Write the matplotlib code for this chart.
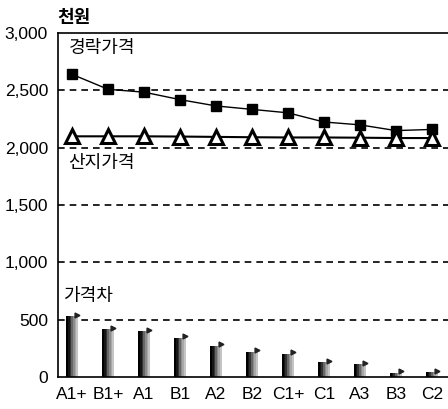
import matplotlib
matplotlib.use("Agg")
import matplotlib.pyplot as plt
import numpy as np

plt.rcParams['font.family'] = ['Liberation Sans', 'Noto Sans CJK KR', 'DejaVu Sans']

# grades
grades = ["A1+", "B1+", "A1", "B1", "A2", "B2", "C1+", "C1", "A3", "B3", "C2"]
# auction price (천원)
auction_price = [2640, 2510, 2485, 2420, 2365, 2335, 2305, 2225, 2200, 2150, 2160]
# farm price (천원)
farm_price = [2100, 2100, 2100, 2098, 2095, 2092, 2090, 2090, 2088, 2085, 2085]
# price gap (bars)
price_gap = [530, 420, 400, 345, 275, 222, 205, 128, 111, 37, 43]

x = np.arange(len(grades))

fig = plt.figure(figsize=(4.48, 4.09), dpi=100)
ax = fig.add_axes([0.129, 0.078, 0.871, 0.841])

# dashed grid lines
for g in [500, 1000, 1500, 2000, 2500]:
    ax.axhline(g, color='black', linestyle=(0, (4, 3)), linewidth=1.2, zorder=1)

# shaded bars: dark on the left fading to light gray on the right
w = 0.32
shades = ['#000000', '#151515', '#333333', '#666666', '#8c8c8c', '#a8a8a8', '#c4c4c4']
n = len(shades)
for i, c in enumerate(shades):
    off = -w / 2 + (i + 0.5) * w / n
    ax.bar(x + off, price_gap, width=w / n * 1.05, color=c, linewidth=0, zorder=2)
# small caps at top right of each bar
ax.plot(x + w * 0.45, np.array(price_gap) + 12, linestyle='none', marker='>',
        markersize=3.5, color='#222222', zorder=3)

# lines
ax.plot(x, auction_price, color='black', linewidth=1, marker='s', markersize=7.5,
        zorder=4)
ax.plot(x, farm_price, color='black', linewidth=1.5, marker='^', markersize=10,
        markerfacecolor='white', markeredgewidth=2.2, zorder=4)

ax.set_xlim(-0.4, 10.45)
ax.set_ylim(0, 3000)
ax.set_xticks(x)
ax.set_xticklabels(grades, fontsize=12.5)
ax.set_yticks([0, 500, 1000, 1500, 2000, 2500, 3000])
ax.set_yticklabels(["0", "500", "1,000", "1,500", "2,000", "2,500", "3,000"], fontsize=12.5)
ax.tick_params(length=0, pad=7)
ax.spines['right'].set_visible(False)
for s in ['left', 'bottom', 'top']:
    ax.spines[s].set_linewidth(1.2)

# labels
ax.text(0.0, 1.018, "천원", transform=ax.transAxes, fontsize=13, fontweight='bold',
        ha='left', va='bottom')
ax.text(-0.1, 2870, "경락가격", fontsize=13, va='center')
ax.text(-0.1, 1860, "산지가격", fontsize=13, va='center')
ax.text(-0.25, 700, "가격차", fontsize=13, va='center')

fig.savefig("out.png", dpi=100)
